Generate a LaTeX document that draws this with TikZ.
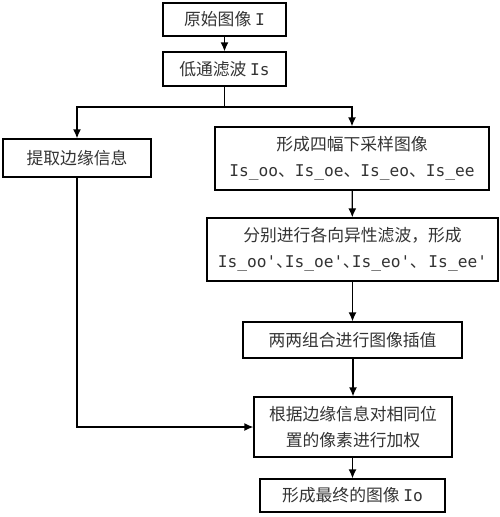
\documentclass[tikz,border=0pt]{standalone}
\usepackage{fontspec}
\setmainfont{Noto Sans CJK SC}[Scale=1.0]
\setmonofont{DejaVu Sans Mono}
\usetikzlibrary{arrows.meta}
\tikzset{
  box/.style={draw=black, line width=1.3pt, inner sep=0pt, align=center, text=black!80, font=\fontsize{16.8}{26.5}\selectfont},
  arr/.style={line width=1.3pt, -{Latex[length=9pt,width=8pt]}},
  ln/.style={line width=1.3pt}
}
\newcommand{\mt}[1]{{\fontsize{16.2}{26.5}\ttfamily #1}}
\begin{document}
\begin{tikzpicture}[x=1pt,y=-1pt]
\useasboundingbox (0,0) rectangle (500,517);
\node[box, minimum width=123pt, minimum height=33pt] (b1) at (224.5,19.5) {原始图像 \mt{I}};
\node[box, minimum width=123pt, minimum height=34pt] (b2) at (224.5,69) {低通滤波 \mt{Is}};
\node[box, minimum width=148pt, minimum height=38pt] (b3) at (77,158) {提取边缘信息};
\node[box, minimum width=274pt, minimum height=63pt] (b4) at (352,158.5) {形成四幅下采样图像\\\mt{Is\_oo}、\mt{Is\_oe}、\mt{Is\_eo}、\mt{Is\_ee}};
\node[box, minimum width=291pt, minimum height=63pt] (b5) at (352.5,249.5) {分别进行各向异性滤波，形成\\\mt{Is\_oo'}､\mt{Is\_oe'}､\mt{Is\_eo'}､\mt{ Is\_ee'}};
\node[box, minimum width=219pt, minimum height=36pt] (b6) at (352.5,340) {两两组合进行图像插值};
\node[box, minimum width=198pt, minimum height=60pt] (b7) at (353,427) {根据边缘信息对相同位\\置的像素进行加权};
\node[box, minimum width=185pt, minimum height=33pt] (b8) at (352.5,495.5) {形成最终的图像 \mt{Io}};
\coordinate (j) at (b2.south |- 0,107);
\draw[arr] (b1) -- (b2);
\draw[ln] (b2.south) -- (j);
\draw[arr] (j) -| (b3.north);
\draw[arr] (j) -| (b4.north);
\draw[arr] (b4) -- (b5);
\draw[arr] (b5.south -| b6.north) -- (b6.north);
\draw[arr] (b6.south -| b7.north) -- (b7.north);
\draw[arr] (b3.south) |- (b7.west);
\draw[arr] (b7.south -| b8.north) -- (b8.north);
\end{tikzpicture}
\end{document}
